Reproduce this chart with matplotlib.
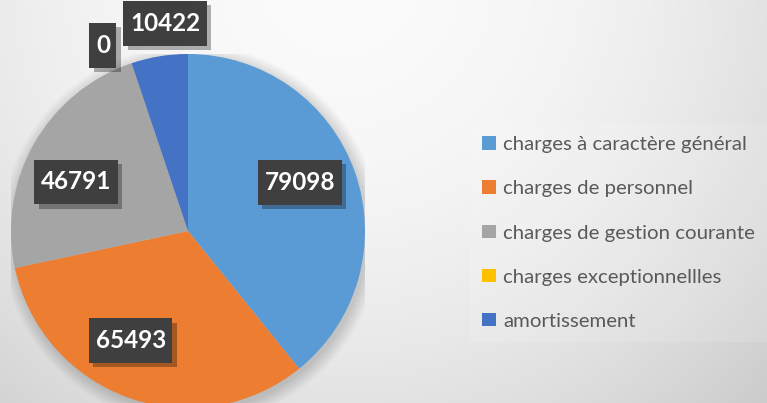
import numpy as np
import matplotlib
matplotlib.use("Agg")
import matplotlib.pyplot as plt
import matplotlib.patheffects as pe
from matplotlib.path import Path
from matplotlib.patches import Patch, Circle

# =======================
#  Data
# =======================
categories = ['charges à caractère général', 'charges de personnel',
              'charges de gestion courante', 'charges exceptionnellles',
              'amortissement']
values = [79098, 65493, 46791, 0, 10422]
colors = ['#5B9BD5', '#ED7D31', '#A5A5A5', '#FFC000', '#4472C4']

# label placement (radius fraction, angle tweak in degrees)
label_dist = [0.69, 0.70, 0.69, 1.155, 1.18]
label_turn = [4, -8, 6, 6, -3]


def label_box(x0, y0, width, height, mutation_size):
    # wider vertical padding than horizontal, like the Excel data labels
    px, py = 0.27 * mutation_size, 0.45 * mutation_size
    x0, y0 = x0 - px, y0 - py
    x1, y1 = x0 + width + 2 * px, y0 + height + 2 * py
    return Path([(x0, y0), (x1, y0), (x1, y1), (x0, y1), (x0, y0)], closed=True)


W, H = 767, 403
fig = plt.figure(figsize=(W / 100, H / 100), dpi=100)

# background radial gradient
bg = fig.add_axes([0, 0, 1, 1])
yy, xx = np.mgrid[0:H, 0:W]
d2 = ((xx - 340) / 550.0) ** 2 + ((yy + 30) / 560.0) ** 2
shade = np.clip(251 - 40 * d2, 200, 255) / 255.0
bg.imshow(np.dstack([shade] * 3), extent=[0, W, H, 0], aspect='auto')
bg.set_axis_off()

# pie axes: centre (188, 231) px, radius 177 px
cx, cy, R = 188, 231, 177
ax = fig.add_axes([(cx - R) / W, (H - cy - R) / H, 2 * R / W, 2 * R / H])

# soft shadow under the pie
for k in range(10):
    ax.add_patch(Circle((0.015, -0.02), 1.0 + 0.008 * k, color='black',
                        alpha=0.016, lw=0, zorder=0))

wedges, _ = ax.pie(values, colors=colors, startangle=90, counterclock=False,
                   radius=1, wedgeprops=dict(linewidth=0))
for w in wedges:
    w.set_zorder(2)
ax.set_xlim(-1, 1)
ax.set_ylim(-1, 1)
ax.set_aspect('equal')
ax.set_axis_off()

for w, v, dist, turn in zip(wedges, values, label_dist, label_turn):
    ang = np.deg2rad((w.theta1 + w.theta2) / 2 + turn)
    x, y = dist * np.cos(ang), dist * np.sin(ang)
    t = ax.text(x, y, f"{v}", ha='center', va='center', fontsize=17.5,
                fontweight='bold', family='Lato', color='white', zorder=4,
                clip_on=False,
                bbox=dict(boxstyle=label_box, fc='#3f3f3f', ec='none'))
    t.get_bbox_patch().set_path_effects(
        [pe.SimplePatchShadow(offset=(3, -3), shadow_rgbFace='black', alpha=0.3),
         pe.Normal()])

handles = [Patch(facecolor=c, edgecolor='none') for c in colors]
leg = fig.legend(handles, categories, loc='center left',
                 bbox_to_anchor=(460 / W, 1 - 233 / H),
                 frameon=True, handlelength=0.64, handleheight=0.64,
                 handletextpad=0.38, labelspacing=1.33, borderpad=0.6,
                 prop={'family': 'Lato', 'size': 14.7})
leg.get_frame().set_facecolor('white')
leg.get_frame().set_alpha(0.12)
leg.get_frame().set_edgecolor('none')
leg.get_frame().set_boxstyle('square', pad=0)
for t in leg.get_texts():
    t.set_color('#595959')

fig.savefig('out.png', dpi=100)
